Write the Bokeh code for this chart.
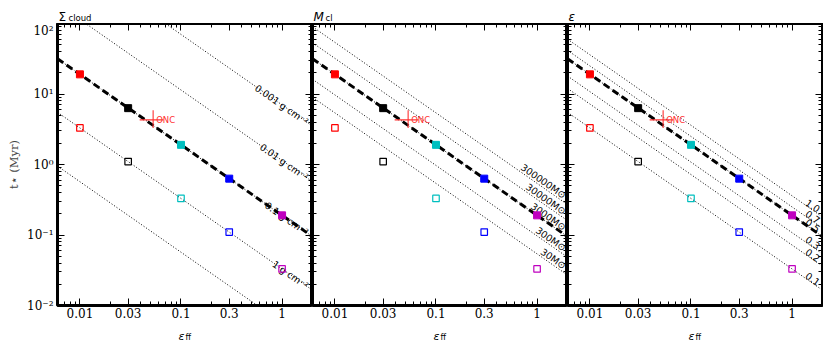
from bokeh.plotting import figure
from bokeh.layouts import row, column
from bokeh.models import Range1d, LogAxis, FixedTicker, CustomJSTickFormatter
from bokeh.core.properties import value
from bokeh.embed import file_html
from bokeh.resources import INLINE

# ---------------- data ----------------
eff_points = [0.01, 0.03, 0.1, 0.3, 1.0]
point_colors = ["#ff0000", "#000000", "#00bfbf", "#0000ff", "#bf00bf"]
t_filled = [19.0, 6.3, 1.9, 0.63, 0.19]
t_open = [3.3, 1.1, 0.33, 0.11, 0.033]
dashed_t_at_eff1 = 0.19

onc_eff = [0.053]
onc_eff_lo = [0.039]
onc_eff_hi = [0.067]
onc_t = [4.3]
onc_t_lo = [3.3]
onc_t_hi = [5.9]

sigma_labels = ["0.001 g cm⁻²", "0.01 g cm⁻²", "0.1 g cm⁻²", "1 g cm⁻²", "10 g cm⁻²"]
sigma_t_at_eff1 = [7.0, 1.14, 0.19, 0.033, 0.0057]
mass_labels = ["300000M⊙", "30000M⊙", "3000M⊙", "300M⊙", "30M⊙"]
mass_t_at_eff1 = [0.54, 0.32, 0.19, 0.097, 0.054]
eps_labels = ["1.0", "0.7", "0.5", "0.3", "0.2", "0.1"]
eps_t_at_eff1 = [0.36, 0.25, 0.19, 0.108, 0.072, 0.033]

x_ticks = [0.01, 0.03, 0.1, 0.3, 1.0]
x_tick_labels = ["0.01", "0.03", "0.1", "0.3", "1"]
y_ticks = [0.01, 0.1, 1.0, 10.0, 100.0]
y_tick_labels = ["10⁻²", "10⁻¹", "10⁰", "10¹", "10²"]

X_LO, X_HI = 0.006, 2.0
Y_LO, Y_HI = 0.01, 100.0

x_minor = [k * d for d in (0.001, 0.01, 0.1, 1.0) for k in range(2, 10)
           if X_LO <= k * d <= X_HI]
y_minor = [k * d for d in (0.01, 0.1, 1.0, 10.0) for k in range(2, 10)]

# ---------------- style / layout constants ----------------
LINE_ANGLE = -0.609
FRAME_W, FRAME_H = 255, 282
TITLE_H, BOT_B, XLAB_H = 23, 20, 18
LEFT_B1 = 57


def formatter(vals, labs):
    return CustomJSTickFormatter(args=dict(vals=vals, labs=labs), code="""
        for (let i = 0; i < vals.length; i++) {
            if (Math.abs(Math.log10(vals[i]) - Math.log10(tick)) < 1e-6) return labs[i];
        }
        return "";
    """)


def style_axis(ax, ticks, minors, labels, show, standoff=4):
    ax.ticker = FixedTicker(ticks=ticks, minor_ticks=minors)
    ax.formatter = formatter(ticks, labels if show else [""] * len(ticks))
    ax.axis_line_color = None
    ax.major_tick_in = 7
    ax.major_tick_out = 0
    ax.minor_tick_in = 4
    ax.minor_tick_out = 0
    ax.major_tick_line_color = "black"
    ax.minor_tick_line_color = "black"
    ax.major_tick_line_width = 1
    ax.minor_tick_line_width = 1
    ax.major_label_text_font = "DejaVu Serif"
    ax.major_label_text_color = "black"
    if show:
        ax.major_label_text_font_size = "12px"
        ax.major_label_standoff = standoff
    else:
        ax.major_label_text_font_size = "1px"
        ax.major_label_standoff = 0


def strip(height, left_border, right_border, xr, yr):
    s = figure(frame_width=FRAME_W, frame_height=height,
               x_range=Range1d(*xr), y_range=Range1d(*yr),
               x_axis_location=None, y_axis_location=None,
               output_backend="svg", toolbar_location=None,
               min_border=0, min_border_left=left_border, min_border_right=right_border)
    s.grid.visible = False
    s.outline_line_color = None
    s.background_fill_color = "white"
    s.border_fill_color = "white"
    return s


def make_panel(left_border, right_border, first, title_main, title_sub, sub_dx,
               title_italic, line_t, line_labels, label_baseline, anchor_x):
    # title strip (pixel units)
    ts = strip(TITLE_H, left_border, right_border, (0, FRAME_W), (0, TITLE_H))
    ts.text(x=[1], y=[6.3], text=[title_main], text_font=value("DejaVu Sans"),
            text_font_size="12px", text_baseline="alphabetic",
            text_font_style="italic" if title_italic else "normal", text_color="black")
    if title_sub:
        ts.text(x=[sub_dx], y=[5.3], text=[title_sub], text_font=value("DejaVu Sans"),
                text_font_size="8.5px", text_baseline="alphabetic", text_color="black")

    p = figure(frame_width=FRAME_W, frame_height=FRAME_H,
               x_axis_type="log", y_axis_type="log",
               x_range=Range1d(X_LO, X_HI), y_range=Range1d(Y_LO, Y_HI),
               output_backend="svg", toolbar_location=None,
               min_border=0, min_border_left=left_border, min_border_right=right_border,
               min_border_top=0, min_border_bottom=BOT_B)
    p.grid.visible = False
    p.outline_line_color = "black"
    p.outline_line_width = 3
    p.background_fill_color = "white"
    p.border_fill_color = "white"

    style_axis(p.below[0], x_ticks, x_minor, x_tick_labels, True, standoff=2)
    style_axis(p.left[0], y_ticks, y_minor, y_tick_labels, first, standoff=4)
    top = LogAxis()
    right = LogAxis()
    style_axis(top, x_ticks, x_minor, x_tick_labels, False)
    style_axis(right, y_ticks, y_minor, y_tick_labels, False)
    p.add_layout(top, "above")
    p.add_layout(right, "right")
    if first:
        ax = p.left[0]
        ax.axis_label = "t⋆ (Myr)"
        ax.axis_label_text_font = "DejaVu Serif"
        ax.axis_label_text_font_size = "11.5px"
        ax.axis_label_text_font_style = "normal"
        ax.axis_label_standoff = 3

    # dotted reference lines
    for k in line_t:
        p.line([X_LO, X_HI], [k / X_LO, k / X_HI], line_color="black",
               line_width=1.0, line_dash="1 2")
    # dashed line
    p.line([X_LO, X_HI], [dashed_t_at_eff1 / X_LO, dashed_t_at_eff1 / X_HI],
           line_color="black", line_width=3, line_dash="7 4")
    # line labels (only those whose anchor falls inside the frame)
    vis = [(k, lab) for k, lab in zip(line_t, line_labels) if k / anchor_x > Y_LO * 1.3]
    p.text(x=[anchor_x] * len(vis), y=[k / anchor_x for k, _ in vis],
           text=[lab for _, lab in vis],
           angle=LINE_ANGLE, text_align="right", text_baseline=label_baseline,
           text_font=value("DejaVu Sans"), text_font_size="9.5px", text_color="black")

    # squares
    p.scatter(eff_points, t_filled, marker="square", size=7,
              fill_color=point_colors, line_color=point_colors)
    p.scatter(eff_points, t_open, marker="square", size=6.5,
              fill_color=None, line_color=point_colors, line_width=1.2)

    # ONC
    p.segment(x0=onc_eff_lo, y0=onc_t, x1=onc_eff_hi, y1=onc_t,
              line_color="#ff3030", line_width=1.1)
    p.segment(x0=onc_eff, y0=onc_t_lo, x1=onc_eff, y1=onc_t_hi,
              line_color="#ff3030", line_width=1.1)
    p.text(x=onc_eff, y=onc_t, text=["ONC"], x_offset=3, text_align="left",
           text_baseline="alphabetic", text_font=value("DejaVu Sans"),
           text_font_size="8.5px", text_color="#ff3030")

    # x-label strip:  ε_ff
    xs = strip(XLAB_H, left_border, right_border, (0, FRAME_W), (0, XLAB_H))
    xc = FRAME_W / 2
    xs.text(x=[xc - 6.5], y=[7.5], text=["ε"], text_font=value("DejaVu Sans"),
            text_font_size="11px", text_font_style="italic",
            text_baseline="alphabetic", text_color="black")
    xs.text(x=[xc + 0.5], y=[6], text=["ff"], text_font=value("DejaVu Sans"),
            text_font_size="8px", text_baseline="alphabetic", text_color="black")
    return column(ts, p, xs, spacing=0)


c1 = make_panel(LEFT_B1, 0, True, "Σ", "cloud", 11, False,
                sigma_t_at_eff1, sigma_labels, "middle", 1.78)
c2 = make_panel(0, 0, False, "M", "cl", 13, True,
                mass_t_at_eff1, mass_labels, "bottom", 1.76)
c3 = make_panel(0, 1, False, "ε", "", 0, True,
                eps_t_at_eff1, eps_labels, "bottom", 1.76)

layout = row(c1, c2, c3, spacing=0)
open("out.html", "w").write(file_html(layout, INLINE))
